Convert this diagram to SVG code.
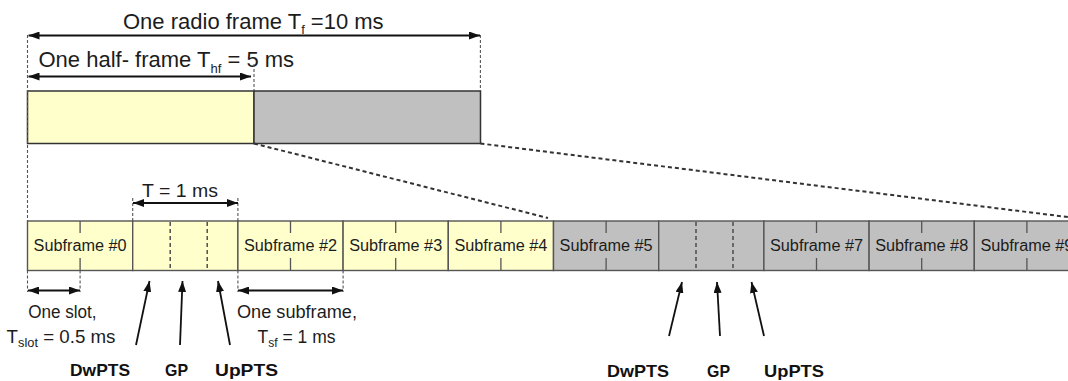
<svg xmlns="http://www.w3.org/2000/svg" width="1068" height="381" viewBox="0 0 1068 381">
  <defs>
    <marker id="ah" viewBox="0 0 11 8" refX="11" refY="4" markerWidth="11" markerHeight="8" markerUnits="userSpaceOnUse" orient="auto-start-reverse">
      <path d="M0,0 L11,4 L0,8 z" fill="#111"/>
    </marker>
    <style>
      text { font-family: "Liberation Sans", Arial, sans-serif; fill: #1c1c1c; }
      .big { font-size: 22px; }
      .lbl { font-size: 17.5px; text-anchor: middle; }
      .sf { font-size: 16px; text-anchor: middle; }
      .bold { font-size: 17px; font-weight: bold; text-anchor: middle; fill: #111; }
      .yel { fill: #ffffcc; }
      .gry { fill: #c0c0c0; }
      .cell { stroke: #555; stroke-width: 1.4; }
      .tick { stroke: #555; stroke-width: 1.3; }
      .gp { stroke: #444; stroke-width: 1.4; stroke-dasharray: 4 3; }
      .guide { stroke: #555; stroke-width: 1.1; stroke-dasharray: 3 2; fill: none; }
      .zoom { stroke: #333; stroke-width: 2; stroke-dasharray: 4 3; fill: none; }
      .dim { stroke: #111; stroke-width: 1.8; fill: none; marker-start: url(#ah); marker-end: url(#ah); }
      .ptr { stroke: #111; stroke-width: 1.8; fill: none; marker-end: url(#ah); }
    </style>
  </defs>

  <rect width="1068" height="381" fill="#ffffff"/>

  <!-- radio frame: two half-frames -->
  <g id="half-frame-0">
    <rect x="27.5" y="91" width="226.5" height="52.5" class="yel" stroke="#333" stroke-width="1.5"/>
  </g>
  <g id="half-frame-1">
    <rect x="254" y="91" width="226.5" height="52.5" class="gry" stroke="#333" stroke-width="1.5"/>
  </g>

  <g id="frame-labels">
    <text class="big" x="123" y="29">One radio frame T<tspan dy="5" font-size="13">f</tspan><tspan dy="-5"> =10 ms</tspan></text>
    <text class="big" x="38.5" y="67">One half- frame T<tspan dy="6" font-size="13">hf</tspan><tspan dy="-6"> = 5 ms</tspan></text>
  </g>

  <!-- subframes of one radio frame -->
  <g id="subframe-0">
    <rect x="27.5" y="221" width="105.2" height="49.5" class="yel cell"/>
    <line x1="80.1" y1="221" x2="80.1" y2="233" class="tick"/>
    <line x1="80.1" y1="258" x2="80.1" y2="270.5" class="tick"/>
    <text class="sf" x="80.1" y="251" textLength="93" lengthAdjust="spacingAndGlyphs">Subframe #0</text>
  </g>
  <g id="subframe-1">
    <rect x="132.7" y="221" width="105.2" height="49.5" class="yel cell"/>
    <line x1="170.2" y1="222" x2="170.2" y2="270" class="gp"/>
    <line x1="207.2" y1="222" x2="207.2" y2="270" class="gp"/>
  </g>
  <g id="subframe-2">
    <rect x="237.9" y="221" width="105.2" height="49.5" class="yel cell"/>
    <line x1="290.5" y1="221" x2="290.5" y2="233" class="tick"/>
    <line x1="290.5" y1="258" x2="290.5" y2="270.5" class="tick"/>
    <text class="sf" x="290.5" y="251" textLength="93" lengthAdjust="spacingAndGlyphs">Subframe #2</text>
  </g>
  <g id="subframe-3">
    <rect x="343.1" y="221" width="105.2" height="49.5" class="yel cell"/>
    <line x1="395.7" y1="221" x2="395.7" y2="233" class="tick"/>
    <line x1="395.7" y1="258" x2="395.7" y2="270.5" class="tick"/>
    <text class="sf" x="395.7" y="251" textLength="93" lengthAdjust="spacingAndGlyphs">Subframe #3</text>
  </g>
  <g id="subframe-4">
    <rect x="448.3" y="221" width="105.2" height="49.5" class="yel cell"/>
    <line x1="500.9" y1="221" x2="500.9" y2="233" class="tick"/>
    <line x1="500.9" y1="258" x2="500.9" y2="270.5" class="tick"/>
    <text class="sf" x="500.9" y="251" textLength="93" lengthAdjust="spacingAndGlyphs">Subframe #4</text>
  </g>
  <g id="subframe-5">
    <rect x="553.5" y="221" width="105.2" height="49.5" class="gry cell"/>
    <line x1="606.1" y1="221" x2="606.1" y2="233" class="tick"/>
    <line x1="606.1" y1="258" x2="606.1" y2="270.5" class="tick"/>
    <text class="sf" x="606.1" y="251" textLength="93" lengthAdjust="spacingAndGlyphs">Subframe #5</text>
  </g>
  <g id="subframe-6">
    <rect x="658.7" y="221" width="105.2" height="49.5" class="gry cell"/>
    <line x1="696" y1="222" x2="696" y2="270" class="gp"/>
    <line x1="733" y1="222" x2="733" y2="270" class="gp"/>
  </g>
  <g id="subframe-7">
    <rect x="763.9" y="221" width="105.2" height="49.5" class="gry cell"/>
    <line x1="816.5" y1="221" x2="816.5" y2="233" class="tick"/>
    <line x1="816.5" y1="258" x2="816.5" y2="270.5" class="tick"/>
    <text class="sf" x="816.5" y="251" textLength="93" lengthAdjust="spacingAndGlyphs">Subframe #7</text>
  </g>
  <g id="subframe-8">
    <rect x="869.1" y="221" width="105.2" height="49.5" class="gry cell"/>
    <line x1="921.7" y1="221" x2="921.7" y2="233" class="tick"/>
    <line x1="921.7" y1="258" x2="921.7" y2="270.5" class="tick"/>
    <text class="sf" x="921.7" y="251" textLength="93" lengthAdjust="spacingAndGlyphs">Subframe #8</text>
  </g>
  <g id="subframe-9">
    <!-- the row runs past the right edge; this cell is clipped -->
    <rect x="974.3" y="221" width="105.2" height="49.5" class="gry cell"/>
    <line x1="1026.9" y1="221" x2="1026.9" y2="233" class="tick"/>
    <line x1="1026.9" y1="258" x2="1026.9" y2="270.5" class="tick"/>
    <text class="sf" x="1026.9" y="251" textLength="93" lengthAdjust="spacingAndGlyphs">Subframe #9</text>
  </g>

  <!-- duration annotations -->
  <g id="duration-labels">
    <text class="lbl" x="180" y="197" textLength="76" lengthAdjust="spacingAndGlyphs">T = 1 ms</text>
    <text class="lbl" x="62.4" y="318" textLength="68.5" lengthAdjust="spacingAndGlyphs">One slot,</text>
    <text class="lbl" transform="translate(61,343) scale(1.07,1)" x="0" y="0">T<tspan dy="4" font-size="12">slot</tspan><tspan dy="-4"> = 0.5 ms</tspan></text>
    <text class="lbl" x="297" y="318" textLength="120" lengthAdjust="spacingAndGlyphs">One subframe,</text>
    <text class="lbl" transform="translate(296.5,343)" x="0" y="0">T<tspan dy="4" font-size="12">sf</tspan><tspan dy="-4"> = 1 ms</tspan></text>
  </g>

  <!-- special subframe field names -->
  <g id="special-labels-1">
    <text class="bold" x="100" y="376" textLength="60" lengthAdjust="spacingAndGlyphs">DwPTS</text>
    <text class="bold" x="176.5" y="376" textLength="23" lengthAdjust="spacingAndGlyphs">GP</text>
    <text class="bold" x="246.5" y="376" textLength="63" lengthAdjust="spacingAndGlyphs">UpPTS</text>
  </g>
  <g id="special-labels-6">
    <text class="bold" x="638" y="376.5" textLength="62" lengthAdjust="spacingAndGlyphs">DwPTS</text>
    <text class="bold" x="718.5" y="376.5" textLength="23" lengthAdjust="spacingAndGlyphs">GP</text>
    <text class="bold" x="794" y="376.5" textLength="60" lengthAdjust="spacingAndGlyphs">UpPTS</text>
  </g>

  <g id="connectors">
    <!-- guides -->
    <line x1="27.5" y1="35" x2="27.5" y2="221" class="guide"/>
    <line x1="480.4" y1="35" x2="480.4" y2="91" class="guide"/>
    <line x1="254" y1="64" x2="254" y2="91" class="guide"/>
    <line x1="132.7" y1="198" x2="132.7" y2="221" class="guide"/>
    <line x1="237.9" y1="198" x2="237.9" y2="221" class="guide"/>
    <line x1="27.5" y1="270.5" x2="27.5" y2="292" class="guide"/>
    <line x1="80.1" y1="270.5" x2="80.1" y2="292" class="guide"/>
    <line x1="237.9" y1="270.5" x2="237.9" y2="292" class="guide"/>
    <line x1="343.1" y1="270.5" x2="343.1" y2="292" class="guide"/>

    <!-- zoom from half-frames to subframe row -->
    <line x1="254" y1="143.5" x2="548" y2="218" class="zoom"/>
    <line x1="480.4" y1="143.5" x2="1079" y2="218.5" class="zoom"/>

    <!-- dimension arrows -->
    <line x1="28.5" y1="35.5" x2="480" y2="35.5" class="dim"/>
    <line x1="28.5" y1="76.5" x2="251" y2="76.5" class="dim"/>
    <line x1="133" y1="203" x2="238" y2="203" class="dim"/>
    <line x1="28" y1="290.5" x2="80" y2="290.5" class="dim"/>
    <line x1="238" y1="290.5" x2="343" y2="290.5" class="dim"/>

    <!-- field pointers -->
    <line x1="136" y1="345" x2="149.5" y2="281" class="ptr"/>
    <line x1="180" y1="345" x2="182.5" y2="281" class="ptr"/>
    <line x1="230" y1="345" x2="218" y2="281" class="ptr"/>
    <line x1="669" y1="336" x2="682" y2="282" class="ptr"/>
    <line x1="720" y1="336" x2="717" y2="282" class="ptr"/>
    <line x1="764" y1="336" x2="751.5" y2="282" class="ptr"/>
  </g>
</svg>
